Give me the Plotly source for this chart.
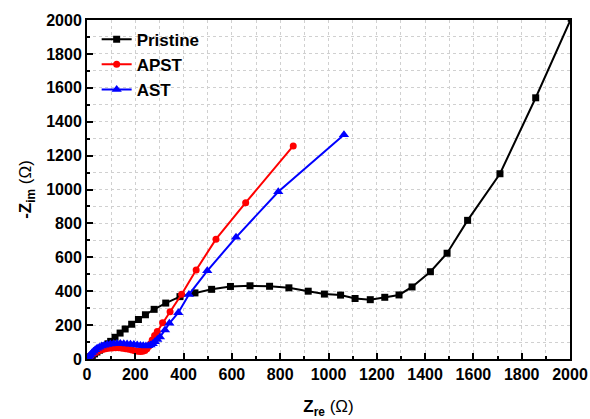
import plotly.graph_objects as go

# Pristine
pr_x = [0, 3, 8, 14, 22, 31, 41, 52, 64, 76, 87, 98, 116, 137, 158, 185, 213, 242, 278, 326, 385, 447, 516,
        594, 675, 756, 836, 916, 983, 1050, 1110, 1173, 1233, 1292, 1346, 1422, 1491, 1576, 1710, 1858, 2005]
pr_y = [0, 2, 7, 13, 21, 30, 41, 52, 64, 77, 90, 104, 128, 153, 177, 205, 233, 261, 293, 330, 368, 390, 411,
        428, 432, 429, 420, 400, 383, 377, 357, 350, 364, 378, 425, 515, 624, 818, 1093, 1541, 2010]

# APST
ap_x = [0, 2, 5, 9, 14, 20, 27, 35, 44, 54, 65, 77, 90, 104, 118, 132, 146, 160, 173, 186, 198, 210, 221,
        231, 240, 248, 256, 263, 270, 280, 291, 313, 344, 392, 452, 534, 657, 854]
ap_y = [0, 1, 6, 12, 18, 25, 32, 39, 45, 51, 56, 60, 63, 65, 66, 66, 64, 61, 57, 53, 49, 46, 44,
        45, 50, 60, 75, 90, 112, 138, 162, 214, 279, 382, 525, 707, 922, 1257]

# AST
as_x = [0, 2, 5, 9, 14, 20, 27, 34, 42, 51, 61, 72, 84, 97, 110, 124, 138, 152, 166, 180, 194, 208, 221,
        233, 244, 254, 263, 272, 281, 291, 302, 323, 341, 378, 422, 498, 617, 792, 1064]
as_y = [0, 2, 8, 16, 25, 35, 46, 55, 63, 70, 76, 81, 85, 88, 90, 91, 91, 90, 89, 87, 85, 82, 80,
        78, 77, 78, 82, 90, 102, 115, 130, 171, 211, 273, 380, 520, 718, 987, 1323]

fig = go.Figure()
fig.add_trace(go.Scatter(x=pr_x, y=pr_y, mode="lines+markers", name="Pristine",
                         line=dict(color="black", width=2),
                         marker=dict(symbol="square", size=7, color="black")))
fig.add_trace(go.Scatter(x=ap_x, y=ap_y, mode="lines+markers", name="APST",
                         line=dict(color="red", width=2),
                         marker=dict(symbol="circle", size=7, color="red")))
fig.add_trace(go.Scatter(x=as_x, y=as_y, mode="lines+markers", name="AST",
                         line=dict(color="blue", width=2),
                         marker=dict(symbol="triangle-up", size=9, color="blue")))

FONT = "Liberation Sans, Arial"
axis_common = dict(
    range=[0, 2000], dtick=200, tick0=0, automargin=False,
    showline=True, linecolor="black", linewidth=2, mirror=True,
    ticks="inside", ticklen=6, tickwidth=2, tickcolor="black",
    showgrid=True, gridcolor="#d0d0d0", griddash="dot", gridwidth=1,
    zeroline=False,
    tickfont=dict(family=FONT, size=16, color="black", weight="bold"),
    minor=dict(dtick=100, ticks="inside", ticklen=3, tickwidth=1.5, tickcolor="black",
               showgrid=True, gridcolor="#d0d0d0", griddash="dot", gridwidth=1),
)

fig.update_xaxes(**axis_common,
                 title=dict(text="<b>Z<sub>re</sub></b> <span style='font-weight:normal'>(Ω)</span>", standoff=18,
                            font=dict(family=FONT, size=17, color="black")))
fig.update_yaxes(**axis_common,
                 title=dict(text="<b>-Z<sub>im</sub></b> <span style='font-weight:normal'>(Ω)</span>", standoff=10,
                            font=dict(family=FONT, size=17, color="black")))

fig.update_layout(
    width=590, height=419,
    margin=dict(l=87, r=20, t=20, b=60),
    plot_bgcolor="white", paper_bgcolor="white",
    showlegend=True,
    legend=dict(x=0.02, y=0.995, xanchor="left", yanchor="top",
                bgcolor="rgba(0,0,0,0)",
                font=dict(family=FONT, size=17, color="black", weight="bold"),
                tracegroupgap=0, itemwidth=30),
)

fig.write_html("out.html")
